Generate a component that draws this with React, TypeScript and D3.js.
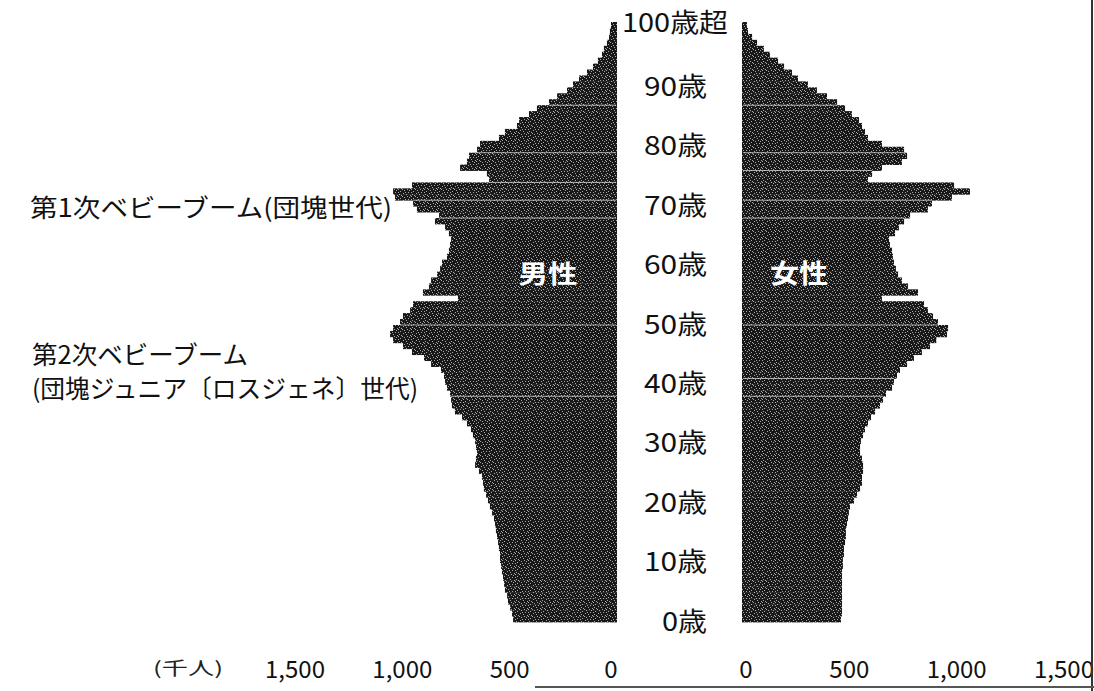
import React from "react";
import * as d3 from "d3";

// ---- data (thousand persons), ages 0..100 (100 = 100歳超) ----
const AGES: number[] = d3.range(0, 101);

const MALE: number[] = [
  484, 489, 498, 508, 512, 522, 526, 531, 536, 540, // 0-9
  545, 545, 550, 554, 559, 564, 568, 573, 582, 592, // 10-19
  601, 610, 620, 624, 629, 643, 661, 657, 652, 657, // 20-29
  661, 671, 680, 699, 722, 755, 769, 773, 778, 792, // 30-39
  801, 806, 820, 866, 899, 955, 997, 1043, 1057, 1043, // 40-49
  1011, 997, 964, 950, 741, 904, 876, 866, 838, 824, // 50-59
  815, 792, 783, 778, 773, 783, 801, 848, 829, 932, // 60-69
  950, 1034, 1043, 955, 596, 606, 731, 699, 689, 652, // 70-79
  638, 550, 522, 466, 456, 410, 373, 317, 279, 233, // 80-89
  205, 177, 140, 112, 89, 70, 61, 47, 37, 33, // 90-99
  28, // 100+
];

const FEMALE: number[] = [
  461, 466, 466, 466, 466, 466, 466, 466, 466, 470, // 0-9
  470, 475, 475, 480, 484, 484, 489, 494, 498, 503, // 10-19
  522, 536, 550, 559, 559, 564, 564, 559, 550, 550, // 20-29
  554, 564, 573, 587, 601, 620, 643, 657, 671, 699, // 30-39
  708, 722, 736, 769, 801, 838, 876, 905, 955, 960, // 40-49
  913, 890, 866, 848, 652, 820, 773, 745, 727, 717, // 50-59
  708, 703, 699, 689, 685, 713, 731, 755, 783, 866, // 60-69
  885, 978, 1062, 988, 587, 606, 652, 745, 769, 755, // 70-79
  652, 587, 573, 559, 545, 512, 480, 443, 396, 349, // 80-89
  307, 261, 233, 196, 168, 130, 102, 70, 47, 28, // 90-99
  23, // 100+
];

const AGE_TICKS: number[] = [0, 10, 20, 30, 40, 50, 60, 70, 80, 90, 100];
const AGE_TICK_LABELS: string[] = ["0歳", "10歳", "20歳", "30歳", "40歳", "50歳", "60歳", "70歳", "80歳", "90歳", "100歳超"];
const X_TICKS: number[] = [0, 500, 1000, 1500];
const UNIT_LABEL = "(千人)";
const SEX_LABELS: string[] = ["男性", "女性"];
const NOTE_1 = "第1次ベビーブーム(団塊世代)";
const NOTE_2A = "第2次ベビーブーム";
const NOTE_2B = "(団塊ジュニア〔ロスジェネ〕世代)";

// light scan streaks across the bars (ages at whose lower edge they run)
const STREAKS_M: number[] = [87, 79, 74, 71, 68, 50, 38];
const STREAKS_F: number[] = [87, 79, 76, 71, 68, 50, 41, 38];

// halftone speckle positions in a small tile
const DOTS: [number, number][] = [
  [1, 1], [5, 3], [8, 0], [3, 5], [7, 6], [0, 4], [10, 2], [4, 0], [9, 5], [6, 1], [2, 3], [11, 6], [12, 0], [8, 3],
];

const W = 1094;
const H = 691;
const FONT = "'Noto Sans CJK JP', 'Noto Sans', sans-serif";

export default function App() {
  const yBand = d3.scaleBand<number>().domain(AGES.slice().reverse()).range([22, 622]).padding(0);
  const bw = yBand.bandwidth();
  const xL = d3.scaleLinear().domain([0, 1500]).range([617, 617 - 322]);
  const xR = d3.scaleLinear().domain([0, 1500]).range([742, 742 + 322]);
  const fmt = d3.format(",");
  const yMid = (a: number) => (yBand(a) as number) + bw / 2;

  return (
    <svg
      width={W}
      height={H}
      style={{ position: "absolute", left: 0, top: 0, background: "#fff" }}
      fontFamily={FONT}
    >
      <defs>
        <pattern id="ht" width={13} height={7} patternUnits="userSpaceOnUse">
          <rect width={13} height={7} fill="#181818" />
          {DOTS.map(([x, y], i) => (
            <rect key={i} x={x} y={y} width={1} height={1} fill="#a8a8a8" />
          ))}
        </pattern>
      </defs>
      <rect width={W} height={H} fill="#fff" />

      {/* male bars */}
      {AGES.map((a) => (
        <rect
          key={"m" + a}
          x={xL(MALE[a])}
          y={yBand(a)}
          width={xL(0) - xL(MALE[a])}
          height={bw + 0.4}
          fill="url(#ht)"
        />
      ))}
      {/* female bars */}
      {AGES.map((a) => (
        <rect
          key={"f" + a}
          x={xR(0)}
          y={yBand(a)}
          width={xR(FEMALE[a]) - xR(0)}
          height={bw + 0.4}
          fill="url(#ht)"
        />
      ))}

      {/* scan streaks */}
      {STREAKS_M.map((a) => (
        <line
          key={"sm" + a}
          x1={xL(Math.min(MALE[a], MALE[a - 1]))}
          x2={xL(0) - 1}
          y1={(yBand(a) as number) + bw}
          y2={(yBand(a) as number) + bw}
          stroke="#e6e6e6"
          strokeWidth={1}
          opacity={0.7}
        />
      ))}
      {STREAKS_F.map((a) => (
        <line
          key={"sf" + a}
          x1={xR(0) + 1}
          x2={xR(Math.min(FEMALE[a], FEMALE[a - 1]))}
          y1={(yBand(a) as number) + bw}
          y2={(yBand(a) as number) + bw}
          stroke="#e6e6e6"
          strokeWidth={1}
          opacity={0.7}
        />
      ))}

      {/* age labels */}
      {AGE_TICKS.map((a, i) =>
        a === 100 ? (
          <text
            key={"age" + a}
            x={622}
            y={yMid(a) - 4}
            fontSize={26}
            dominantBaseline="central"
            textLength={106}
            lengthAdjust="spacingAndGlyphs"
            fill="#111"
          >
            {AGE_TICK_LABELS[i]}
          </text>
        ) : (
          <text
            key={"age" + a}
            x={707 - (a === 0 ? 45 : 63)}
            y={yMid(a)}
            fontSize={26}
            dominantBaseline="central"
            textLength={a === 0 ? 45 : 63}
            lengthAdjust="spacingAndGlyphs"
            fill="#111"
          >
            {AGE_TICK_LABELS[i]}
          </text>
        )
      )}

      {/* sex labels */}
      <text x={548} y={272} fontSize={25} fontWeight="bold" fill="#fff" textAnchor="middle" dominantBaseline="central" textLength={59} lengthAdjust="spacingAndGlyphs">
        {SEX_LABELS[0]}
      </text>
      <text x={799} y={271} fontSize={26} fontWeight="bold" fill="#fff" textAnchor="middle" dominantBaseline="central" textLength={58} lengthAdjust="spacingAndGlyphs">
        {SEX_LABELS[1]}
      </text>

      {/* annotations */}
      <text x={30} y={206} fontSize={25} dominantBaseline="central" textLength={362} lengthAdjust="spacingAndGlyphs" fill="#111">
        {NOTE_1}
      </text>
      <text x={32} y={353} fontSize={25} dominantBaseline="central" textLength={216} lengthAdjust="spacingAndGlyphs" fill="#111">
        {NOTE_2A}
      </text>
      <text x={32} y={387} fontSize={25} dominantBaseline="central" textLength={386} lengthAdjust="spacingAndGlyphs" fill="#111">
        {NOTE_2B}
      </text>

      {/* x axis labels */}
      <text x={188} y={667} fontSize={18} dominantBaseline="central" textAnchor="middle" textLength={70} lengthAdjust="spacingAndGlyphs" fill="#222">
        {UNIT_LABEL}
      </text>
      {X_TICKS.map((t) => (
        <text key={"xl" + t} x={xL(t) - (t === 0 ? 6 : 0)} y={667} fontSize={24} textAnchor="middle" dominantBaseline="central" fill="#111">
          {fmt(t)}
        </text>
      ))}
      {X_TICKS.map((t) => (
        <text key={"xr" + t} x={xR(t) + (t === 0 ? 4 : 0)} y={667} fontSize={24} textAnchor="middle" dominantBaseline="central" fill="#111">
          {fmt(t)}
        </text>
      ))}

      {/* frame remnants from the scan */}
      <line x1={1092} x2={1092} y1={0} y2={H} stroke="#333" strokeWidth={2} />
      <line x1={535} x2={W} y1={687} y2={687} stroke="#555" strokeWidth={2} />
    </svg>
  );
}
